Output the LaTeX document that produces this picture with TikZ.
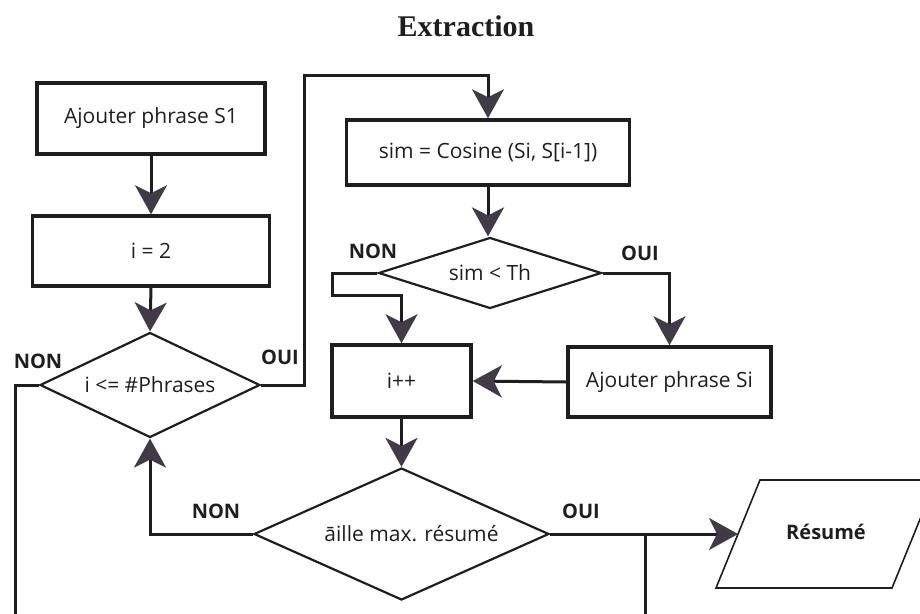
\documentclass[tikz,border=0pt]{standalone}
\usepackage{fontspec}
\setmainfont{Open Sans}
\newfontfamily\titlefont{Liberation Serif}
\usetikzlibrary{shapes.geometric,arrows.meta}
\definecolor{ink}{HTML}{1E1E1E}
\definecolor{tipgray}{HTML}{403B46}
\begin{document}
\begin{tikzpicture}[x=1pt,y=-1pt,
  every node/.style={font=\fontsize{21}{25}\selectfont, text=ink},
  procbox/.style={draw=ink, line width=3.5pt, rectangle, inner sep=0pt},
  decision/.style={draw=ink, line width=2.2pt, diamond, inner sep=0pt},
  flowlabel/.style={font=\bfseries\fontsize{20}{24}\selectfont},
  link/.style={draw=ink, line width=3pt},
  flowarrow/.style={link, -{Stealth[length=29pt,width=32pt,inset=8pt,color=tipgray]}},
]
\useasboundingbox (0,0) rectangle (920,613);
\clip (0,0) rectangle (920,613);

% title
\node[font=\titlefont\bfseries\fontsize{30}{34}\selectfont] (title) at (466,26) {Extraction};

% process boxes
\node[procbox, minimum width=228pt, minimum height=71pt] (s1)  at (151,118.5) {Ajouter phrase S1};
\node[procbox, minimum width=237pt, minimum height=70pt] (i2)  at (151,251) {i = 2};
\node[procbox, minimum width=283pt, minimum height=65pt] (sim) at (488,152.5) {sim = Cosine (Si, S[i-1])};
\node[procbox, minimum width=139pt, minimum height=72pt] (ipp) at (401.5,381) {i++};
\node[procbox, minimum width=203pt, minimum height=70pt] (addsi) at (669.5,382) {Ajouter phrase Si};

% decisions (aspect chosen so that the minimum sizes govern)
\node[decision, shape aspect=2.1, minimum width=220pt, minimum height=105pt] (d1) at (150,385) {i <= \#Phrases};
\node[decision, shape aspect=3.14, minimum width=223pt, minimum height=71pt]  (d2) at (490,273) {sim < Th};
\node[decision, shape aspect=2.23, minimum width=295pt, minimum height=132pt] (d3) at (401.5,534) {\hspace*{20pt}āille max. résumé};

% output (parallelogram, runs past the right edge)
\draw[draw=ink, line width=1.6pt] (716,588) -- (760,480) -- (936,480) -- (892,588) -- cycle;
\node[flowlabel] (resume) at (826,532) {Résumé};
\coordinate (resumein) at (738,534);

% branch labels
\node[flowlabel] (non1) at (38,361) {NON};
\node[flowlabel] (oui1) at (280,357) {OUI};
\node[flowlabel] (non2) at (373,251) {NON};
\node[flowlabel] (oui2) at (640,253) {OUI};
\node[flowlabel] (non3) at (216,511) {NON};
\node[flowlabel] (oui3) at (581,511) {OUI};

% routing points
\coordinate (ouitop) at (304,75);
\coordinate (nonbend) at (332,295);
\coordinate (leftend) at (15,615);
\coordinate (tap) at (645,534);
\coordinate (tapend) at (645,615);

% connectors
\draw[flowarrow] (s1.south) -- (i2.north);
\draw[flowarrow] (i2.south) -- (d1.north);
\draw[flowarrow] (d1.east) -| (ouitop) -| (sim.north);
\draw[flowarrow] (sim.south) -- (d2.north -| sim.south);
\draw[flowarrow] (d2.east) -| (addsi.north);
\draw[flowarrow] (d2.west) -| (nonbend) -| (ipp.north);
\draw[flowarrow] (addsi.west) -- (ipp.east);
\draw[flowarrow] (ipp.south) -- (d3.north);
\draw[flowarrow] (d3.west) -| (d1.south);
\draw[flowarrow] (d3.east) -- (resumein);
\draw[link] (d1.west) -| (leftend);
\draw[link] (tap) -- (tapend);
\end{tikzpicture}
\end{document}
